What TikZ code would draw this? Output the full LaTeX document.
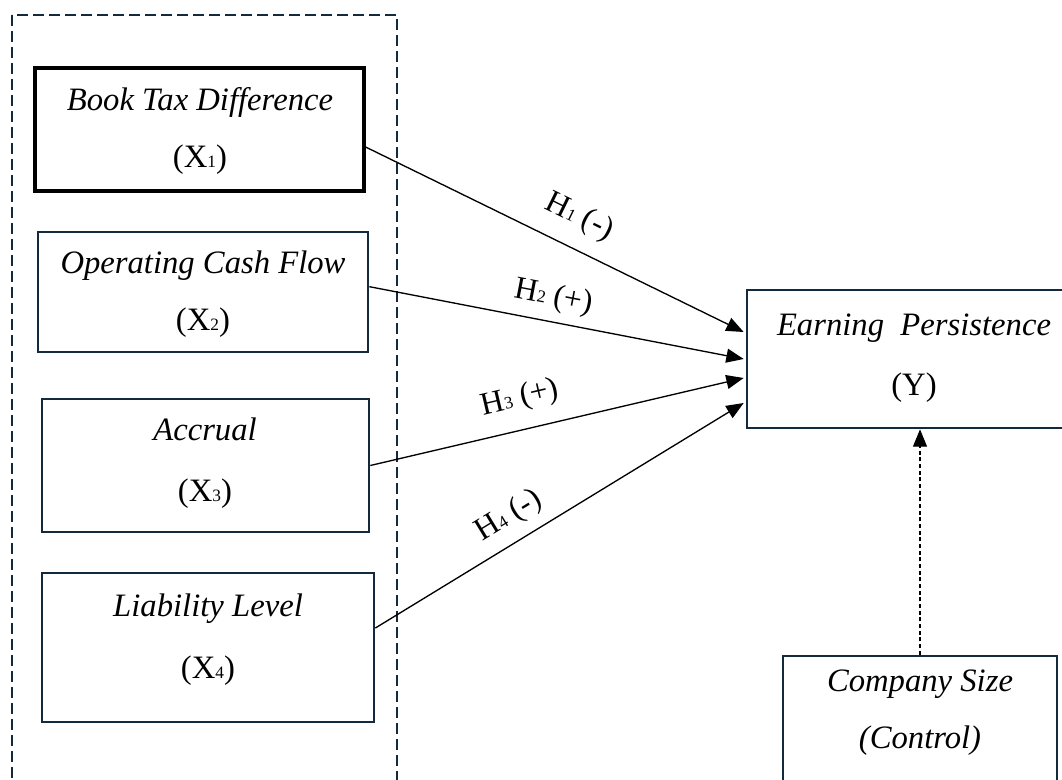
\documentclass[tikz,border=0pt]{standalone}
\usepackage{fontspec}
\setmainfont{Liberation Serif}
\usetikzlibrary{arrows.meta}
\definecolor{navy}{HTML}{13293D}
\newcommand\subd[1]{{\fontsize{13}{13}\selectfont #1}}
\tikzset{
  box/.style={draw=navy, line width=2pt, inner sep=0pt},
  boxone/.style={draw=black, line width=2.3pt, inner sep=0pt},
  txt/.style={font=\fontsize{24.5}{28}\selectfont, text height=17pt, text depth=5pt, inner sep=0pt},
  conn/.style={line width=1pt, -{Triangle[length=13pt,width=10.5pt]}},
  ctrl/.style={line width=0.8pt, dash pattern=on 3pt off 2pt, -{Triangle[length=13pt,width=10.5pt]}},
  lbl/.style={font=\fontsize{24}{28}\selectfont, text height=17pt, text depth=5pt, inner sep=0pt, sloped},
  grp/.style={draw=navy, line width=2pt, dash pattern=on 8pt off 4pt}
}
\begin{document}
\begin{tikzpicture}[x=0.75pt,y=-0.75pt]
\useasboundingbox (0,0) rectangle (1062,780);
\clip (0,0) rectangle (1062,780);
% group frame
\draw[grp] (12,15) rectangle (397,830);
% boxes
\node[boxone, minimum width=246.75pt, minimum height=92.25pt] (b1) at (199.5,129.5) {};
\node[box, minimum width=247.5pt, minimum height=90pt] (b2) at (203,292) {};
\node[box, minimum width=245.25pt, minimum height=99.75pt] (b3) at (205.5,465.5) {};
\node[box, minimum width=249pt, minimum height=111.75pt] (b4) at (208,647.5) {};
\node[box, minimum width=250.5pt, minimum height=103.5pt] (e) at (914,359) {};
\node[box, minimum width=205.5pt, minimum height=108pt] (c) at (920,728) {};
% texts
\node[txt] (t1a) at (200,103) {\itshape Book Tax Difference};
\node[txt] (t1b) at (200,160) {(X\subd{1})};
\node[txt] (t2a) at (203,265) {\itshape Operating Cash Flow};
\node[txt] (t2b) at (203,322) {(X\subd{2})};
\node[txt] (t3a) at (205,432) {\itshape Accrual};
\node[txt] (t3b) at (205,493) {(X\subd{3})};
\node[txt] (t4a) at (208,608) {\itshape Liability Level};
\node[txt] (t4b) at (208,670) {(X\subd{4})};
\node[txt] (tea) at (914,327) {\itshape Earning\ \ Persistence};
\node[txt] (teb) at (914,387) {(Y)};
\node[txt] (tca) at (920,683) {\itshape Company Size};
\node[txt] (tcb) at (920,740) {\itshape (Control)};
% connectors
\draw[conn] ([yshift=-13.1pt]b1.east) -- node[lbl, above=12pt, pos=0.53] (h1) {H\subd{1} (-)} ([xshift=-1.5pt,yshift=20.25pt]e.west);
\draw[conn] ([yshift=4pt]b2.east) -- node[lbl, above=7pt, pos=0.48] (h2) {H\subd{2} (+)} ([xshift=-1.5pt]e.west);
\draw[conn] (b3.east) -- node[lbl, above=12pt, pos=0.42] (h3) {H\subd{3} (+)} ([xshift=-1.5pt,yshift=-14.25pt]e.west);
\draw[conn] ([yshift=14.6pt]b4.east) -- node[lbl, above=8pt, pos=0.40] (h4) {H\subd{4} (-)} ([xshift=-1.5pt,yshift=-33pt]e.west);
\draw[ctrl] (c.north) -- (c.north |- e.south);
\end{tikzpicture}
\end{document}
